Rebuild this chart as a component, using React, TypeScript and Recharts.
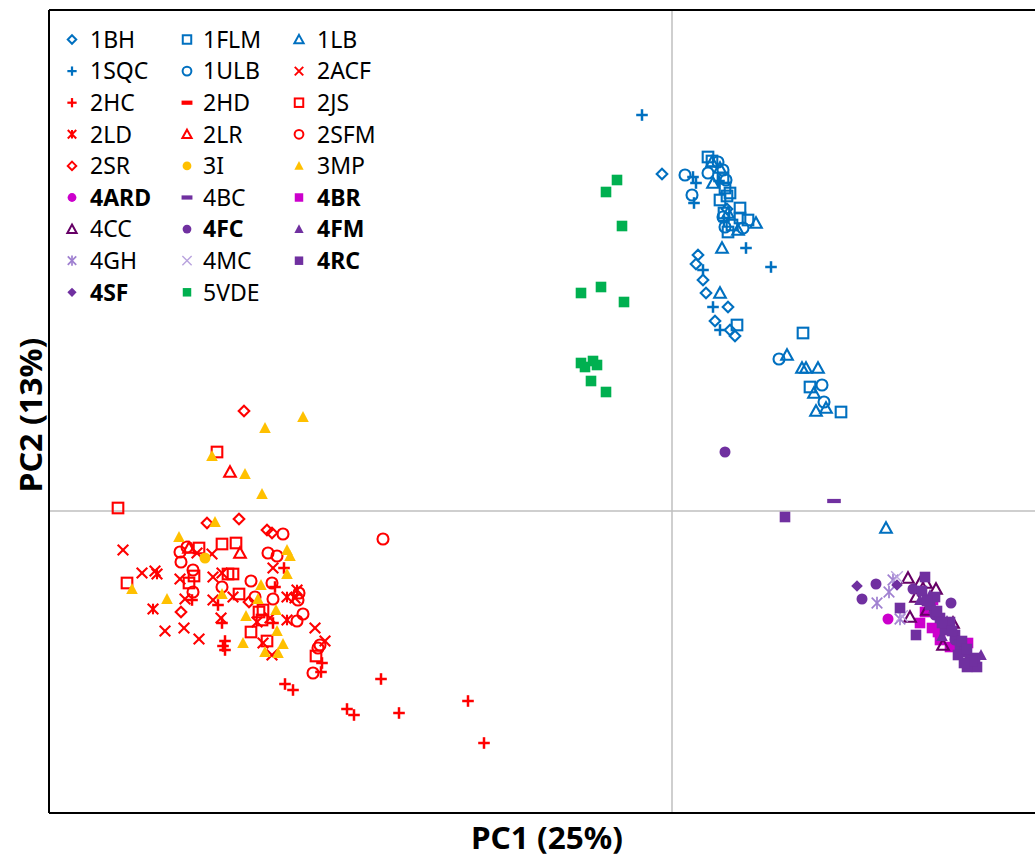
import React from 'react';
import { ScatterChart, Scatter, XAxis, YAxis, ReferenceLine } from 'recharts';

type P = [number, number];

const BLUE = '#0070C0';
const RED = '#FF0000';
const YELLOW = '#FFC000';
const MAGENTA = '#CC00CC';
const PURPLE = '#7030A0';
const DARKPURPLE = '#660066';
const LAV1 = '#9F7FD0';
const LAV2 = '#B9A3DE';
const GREEN = '#00B050';

const X_DOMAIN: [number, number] = [-6.23, 3.63];
const Y_DOMAIN: [number, number] = [-3.02, 5.01];

const s1BH: P[] = [[-0.10, 3.37], [0.26, 2.56], [0.24, 2.47], [0.31, 2.31], [0.34, 2.18], [0.56, 2.04], [0.43, 1.90], [0.58, 1.81], [0.63, 1.75], [0.55, 3.02]];
const s1FLM: P[] = [[0.36, 3.54], [0.51, 3.33], [0.53, 3.23], [0.58, 3.18], [0.48, 3.11], [0.68, 3.03], [0.68, 2.93], [0.76, 2.91], [0.56, 2.79], [0.65, 1.86], [1.31, 1.78], [1.38, 1.24], [1.69, 0.99], [0.40, 3.50], [0.55, 3.15], [0.52, 2.98], [0.60, 2.86]];
const s1LB: P[] = [[0.40, 3.49], [0.41, 3.28], [0.84, 2.88], [0.66, 2.81], [0.50, 2.63], [0.48, 2.18], [1.15, 1.56], [1.30, 1.43], [1.34, 1.43], [1.46, 1.43], [1.42, 1.18], [1.44, 1.00], [1.54, 1.03], [2.14, -0.17], [0.48, 3.43], [0.56, 2.98]];
const s1SQC: P[] = [[-0.30, 3.96], [0.21, 3.34], [0.24, 3.28], [0.22, 3.08], [0.74, 2.63], [0.99, 2.44], [0.31, 2.41], [0.41, 2.04], [0.48, 1.81], [0.47, 3.30], [0.52, 2.90]];
const s1ULB: P[] = [[0.13, 3.36], [0.20, 3.16], [0.46, 3.49], [0.51, 3.41], [0.36, 3.38], [0.51, 2.94], [0.53, 2.84], [0.71, 2.83], [1.07, 1.52], [1.50, 1.26], [1.52, 1.09], [0.54, 3.31]];
const s2ACF: P[] = [[-5.49, -0.39], [-4.75, -0.42], [-4.60, -0.43], [-3.99, -0.57], [-5.30, -0.62], [-5.17, -0.60], [-4.92, -0.68], [-4.59, -0.66], [-4.50, -0.62], [-4.87, -0.88], [-4.59, -0.89], [-4.39, -0.86], [-3.77, -0.87], [-5.07, -1.20], [-4.88, -1.17], [-4.73, -1.28], [-4.51, -1.07], [-4.15, -1.11], [-4.02, -1.07], [-4.00, -1.44], [-4.09, -1.32], [-3.57, -1.17], [-3.47, -1.30]];
const s2HC: P[] = [[-3.88, -0.57], [-3.97, -0.76], [-4.80, -0.89], [-4.54, -0.94], [-4.50, -1.12], [-3.99, -1.12], [-4.47, -1.30], [-4.47, -1.39], [-4.49, -1.35], [-3.50, -1.52], [-3.51, -1.61], [-3.87, -1.73], [-3.79, -1.79], [-3.25, -1.98], [-3.18, -2.04], [-2.73, -2.02], [-2.91, -1.68], [-2.04, -1.90], [-1.88, -2.32]];
const s2HD: P[] = [];
const s2JS: P[] = [[-4.55, 0.59], [-5.54, 0.03], [-4.73, -0.37], [-4.50, -0.33], [-4.36, -0.32], [-4.78, -0.65], [-4.83, -0.72], [-4.44, -0.63], [-4.39, -0.63], [-5.45, -0.72], [-4.33, -0.83], [-4.09, -0.99], [-4.10, -1.09], [-4.21, -1.21], [-4.05, -1.30], [-3.56, -1.45], [-4.13, -1.01]];
const s2LD: P[] = [[-5.19, -0.98], [-5.15, -0.63], [-3.75, -0.79], [-3.85, -1.09], [-3.85, -0.86]];
const s2LR: P[] = [[-4.42, 0.39], [-4.83, -0.37], [-4.32, -0.42]];
const s2SFM: P[] = [[-3.89, -0.23], [-4.92, -0.41], [-4.91, -0.51], [-4.85, -0.36], [-4.04, -0.42], [-3.95, -0.45], [-4.79, -0.59], [-4.50, -0.76], [-4.21, -0.70], [-4.00, -0.72], [-4.79, -0.81], [-4.17, -0.86], [-3.99, -0.88], [-3.74, -0.89], [-3.73, -0.82], [-3.75, -1.10], [-3.69, -1.03], [-3.52, -1.34], [-3.54, -1.37], [-3.59, -1.62], [-2.89, -0.28]];
const s2SR: P[] = [[-4.28, 1.00], [-4.65, -0.12], [-4.33, -0.08], [-4.00, -0.22], [-4.23, -0.91], [-4.91, -1.01], [-4.05, -0.19]];
const s3I: P[] = [[-4.67, -0.47]];
const s3MP: P[] = [[-3.69, 0.94], [-4.07, 0.83], [-4.27, 0.37], [-4.10, 0.17], [-4.60, 0.55], [-4.57, -0.11], [-4.93, -0.26], [-3.85, -0.39], [-3.82, -0.45], [-3.85, -0.63], [-4.11, -0.74], [-5.40, -0.78], [-5.05, -0.88], [-4.50, -0.83], [-4.14, -0.88], [-4.26, -1.05], [-3.96, -0.99], [-3.95, -1.20], [-4.29, -1.32], [-3.89, -1.33], [-4.07, -1.41], [-3.94, -1.42]];
const s4ARD: P[] = [[2.16, -1.08]];
const s4BC: P[] = [[1.62, 0.10]];
const s4BR: P[] = [[2.48, -1.12], [2.60, -1.17], [2.61, -0.89], [2.68, -1.29], [2.78, -1.36], [2.96, -1.32], [2.53, -1.01], [2.66, -1.21]];
const s4CC: P[] = [[2.36, -0.67], [2.48, -0.72], [2.54, -0.72], [2.64, -0.78], [2.44, -0.86], [2.38, -1.06], [2.55, -0.99], [2.71, -1.34], [2.81, -1.12]];
const s4FC: P[] = [[0.53, 0.59], [2.04, -0.73], [1.90, -0.88], [2.79, -0.92], [2.41, -0.78], [2.63, -1.04], [2.83, -1.29], [2.73, -1.14]];
const s4FM: P[] = [[3.09, -1.44], [2.58, -0.84], [2.88, -1.39], [2.76, -1.19], [2.48, -0.89], [2.62, -0.97], [2.75, -1.10], [2.85, -1.28], [2.97, -1.45], [2.70, -1.25]];
const s4GH: P[] = [[2.21, -0.69], [2.17, -0.81], [2.05, -0.92], [2.28, -1.08]];
const s4MC: P[] = [[2.25, -0.66], [2.30, -1.05]];
const s4RC: P[] = [[2.53, -0.66], [2.28, -0.97], [2.44, -1.24], [3.05, -1.56], [2.95, -1.56], [1.13, -0.06], [2.58, -0.94], [2.68, -1.07], [2.73, -1.19], [2.83, -1.24], [2.88, -1.34], [2.93, -1.41], [2.98, -1.49], [2.86, -1.44], [3.03, -1.47], [2.78, -1.11], [2.63, -0.86], [2.50, -0.80], [2.55, -0.90], [2.65, -1.00], [2.70, -1.12], [2.80, -1.20], [2.90, -1.30], [2.95, -1.38], [3.00, -1.50], [2.92, -1.52]];
const s4SF: P[] = [[1.85, -0.75], [2.25, -0.74]];
const s5VDE: P[] = [[-0.55, 3.31], [-0.66, 3.19], [-0.50, 2.85], [-0.71, 2.24], [-0.91, 2.18], [-0.48, 2.09], [-0.91, 1.48], [-0.79, 1.50], [-0.75, 1.46], [-0.87, 1.44], [-0.81, 1.30], [-0.66, 1.19]];

type Kind = 'diamond' | 'square' | 'triangle' | 'plus' | 'circle' | 'x' | 'dash' | 'ld' | 'dot' | 'tri' | 'sq' | 'dia' | 'star' | 'thinx';

interface Series { name: string; data: P[]; kind: Kind; color: string; bold: boolean }

const SERIES: Series[] = [
  { name: '1BH', data: s1BH, kind: 'diamond', color: BLUE, bold: false },
  { name: '1FLM', data: s1FLM, kind: 'square', color: BLUE, bold: false },
  { name: '1LB', data: s1LB, kind: 'triangle', color: BLUE, bold: false },
  { name: '1SQC', data: s1SQC, kind: 'plus', color: BLUE, bold: false },
  { name: '1ULB', data: s1ULB, kind: 'circle', color: BLUE, bold: false },
  { name: '2ACF', data: s2ACF, kind: 'x', color: RED, bold: false },
  { name: '2HC', data: s2HC, kind: 'plus', color: RED, bold: false },
  { name: '2HD', data: s2HD, kind: 'dash', color: RED, bold: false },
  { name: '2JS', data: s2JS, kind: 'square', color: RED, bold: false },
  { name: '2LD', data: s2LD, kind: 'ld', color: RED, bold: false },
  { name: '2LR', data: s2LR, kind: 'triangle', color: RED, bold: false },
  { name: '2SFM', data: s2SFM, kind: 'circle', color: RED, bold: false },
  { name: '2SR', data: s2SR, kind: 'diamond', color: RED, bold: false },
  { name: '3I', data: s3I, kind: 'dot', color: YELLOW, bold: false },
  { name: '3MP', data: s3MP, kind: 'tri', color: YELLOW, bold: false },
  { name: '4ARD', data: s4ARD, kind: 'dot', color: MAGENTA, bold: true },
  { name: '4BC', data: s4BC, kind: 'dash', color: PURPLE, bold: false },
  { name: '4BR', data: s4BR, kind: 'sq', color: MAGENTA, bold: true },
  { name: '4CC', data: s4CC, kind: 'triangle', color: DARKPURPLE, bold: false },
  { name: '4FC', data: s4FC, kind: 'dot', color: PURPLE, bold: true },
  { name: '4FM', data: s4FM, kind: 'tri', color: PURPLE, bold: true },
  { name: '4GH', data: s4GH, kind: 'star', color: LAV1, bold: false },
  { name: '4MC', data: s4MC, kind: 'thinx', color: LAV2, bold: false },
  { name: '4RC', data: s4RC, kind: 'sq', color: PURPLE, bold: true },
  { name: '4SF', data: s4SF, kind: 'dia', color: PURPLE, bold: true },
  { name: '5VDE', data: s5VDE, kind: 'sq', color: GREEN, bold: false },
];

function Marker({ kind, color, cx, cy, k = 1 }: { kind: Kind; color: string; cx: number; cy: number; k?: number }) {
  if (cx == null || cy == null || isNaN(cx) || isNaN(cy)) return null;
  const sw = 2.1 * (k < 1 ? 0.95 : 1);
  switch (kind) {
    case 'diamond': {
      const h = 5.3 * k;
      return <polygon points={`${cx},${cy - h} ${cx + h},${cy} ${cx},${cy + h} ${cx - h},${cy}`} fill="none" stroke={color} strokeWidth={sw} />;
    }
    case 'square': {
      const h = 5.3 * k;
      return <rect x={cx - h} y={cy - h} width={2 * h} height={2 * h} fill="none" stroke={color} strokeWidth={sw} />;
    }
    case 'triangle': {
      const h = 5.8 * k;
      return <polygon points={`${cx},${cy - h} ${cx + h},${cy + h * 0.82} ${cx - h},${cy + h * 0.82}`} fill="none" stroke={color} strokeWidth={sw} strokeLinejoin="miter" />;
    }
    case 'plus': {
      const h = 5.8 * k;
      return <g stroke={color} strokeWidth={2.5 * (k < 1 ? 0.9 : 1)}><line x1={cx - h} y1={cy} x2={cx + h} y2={cy} /><line x1={cx} y1={cy - h} x2={cx} y2={cy + h} /></g>;
    }
    case 'circle':
      return <circle cx={cx} cy={cy} r={5.5 * k} fill="none" stroke={color} strokeWidth={sw} />;
    case 'x': {
      const h = 5.3 * k;
      return <g stroke={color} strokeWidth={sw}><line x1={cx - h} y1={cy - h} x2={cx + h} y2={cy + h} /><line x1={cx - h} y1={cy + h} x2={cx + h} y2={cy - h} /></g>;
    }
    case 'ld': {
      const h = 5.3 * k;
      return <g stroke={color} strokeWidth={sw}><line x1={cx - h} y1={cy - h} x2={cx + h} y2={cy + h} /><line x1={cx - h} y1={cy + h} x2={cx + h} y2={cy - h} /><line x1={cx} y1={cy - h} x2={cx} y2={cy + h} /></g>;
    }
    case 'star': {
      const h = 5.3 * k;
      return <g stroke={color} strokeWidth={1.7}><line x1={cx - h} y1={cy - h} x2={cx + h} y2={cy + h} /><line x1={cx - h} y1={cy + h} x2={cx + h} y2={cy - h} /><line x1={cx} y1={cy - h * 1.2} x2={cx} y2={cy + h * 1.2} /></g>;
    }
    case 'thinx': {
      const h = 5.8 * k;
      return <g stroke={color} strokeWidth={1.4}><line x1={cx - h} y1={cy - h} x2={cx + h} y2={cy + h} /><line x1={cx - h} y1={cy + h} x2={cx + h} y2={cy - h} /></g>;
    }
    case 'dash':
      return <rect x={cx - 6.8 * k} y={cy - 2.1} width={13.6 * k} height={4.2} fill={color} />;
    case 'dot':
      return <circle cx={cx} cy={cy} r={5.5 * k} fill={color} />;
    case 'tri': {
      const h = 5.8 * k;
      return <polygon points={`${cx},${cy - h * 1.05} ${cx + h},${cy + h * 0.85} ${cx - h},${cy + h * 0.85}`} fill={color} />;
    }
    case 'sq': {
      const h = 5.3 * k;
      return <rect x={cx - h} y={cy - h} width={2 * h} height={2 * h} fill={color} />;
    }
    case 'dia': {
      const h = 5.8 * k;
      return <polygon points={`${cx},${cy - h} ${cx + h},${cy} ${cx},${cy + h} ${cx - h},${cy}`} fill={color} />;
    }
  }
  return null;
}

const LEG_MARK_X = [72, 187, 299];
const LEG_TEXT_X = [90, 203, 317];
const LEG_Y0 = 39.5;
const LEG_DY = 31.6;

function LegendOverlay() {
  return (
    <svg width={1035} height={858} style={{ position: 'absolute', left: 0, top: 0, pointerEvents: 'none' }}>
      {SERIES.map((s, i) => {
        const col = i % 3;
        const row = Math.floor(i / 3);
        const cy = LEG_Y0 + row * LEG_DY;
        return (
          <g key={s.name}>
            <Marker kind={s.kind} color={s.color} cx={LEG_MARK_X[col]} cy={cy} k={0.8} />
            <text x={LEG_TEXT_X[col]} y={cy + 8.3} fontFamily="'Noto Sans', sans-serif" fontSize={23} fontWeight={s.bold ? 700 : 400} fill="#000">{s.name}</text>
          </g>
        );
      })}
    </svg>
  );
}

export default function App() {
  return (
    <div style={{ position: 'absolute', left: 0, top: 0, width: 1035, height: 858, background: '#fff', overflow: 'hidden' }}>
      <ScatterChart width={1035} height={858} margin={{ top: 10, right: 0, bottom: 0, left: 0 }}>
        <XAxis type="number" dataKey="x" domain={X_DOMAIN} allowDataOverflow tick={false} tickLine={false} height={45} axisLine={{ stroke: '#000', strokeWidth: 2 }} />
        <YAxis type="number" dataKey="y" domain={Y_DOMAIN} allowDataOverflow tick={false} tickLine={false} width={49} axisLine={{ stroke: '#000', strokeWidth: 2 }} />
        <ReferenceLine x={0} stroke="#bfbfbf" strokeWidth={1.5} />
        <ReferenceLine y={0} stroke="#bfbfbf" strokeWidth={1.5} />
        <ReferenceLine y={Y_DOMAIN[1]} stroke="#000" strokeWidth={2} />
        {SERIES.map((s) => (
          <Scatter
            key={s.name}
            name={s.name}
            data={s.data.map(([x, y]) => ({ x, y }))}
            isAnimationActive={false}
            shape={(p: any) => <Marker kind={s.kind} color={s.color} cx={p.cx} cy={p.cy} />}
          />
        ))}
      </ScatterChart>
      <LegendOverlay />
      <svg width={1035} height={858} style={{ position: 'absolute', left: 0, top: 0, pointerEvents: 'none' }}>
        <text x={547} y={849} textAnchor="middle" fontFamily="'Noto Sans', sans-serif" fontSize={31} fontWeight={700} textLength={152} lengthAdjust="spacingAndGlyphs">PC1 (25%)</text>
        <text x={0} y={0} transform="translate(41.5,415) rotate(-90)" textAnchor="middle" fontFamily="'Noto Sans', sans-serif" fontSize={31} fontWeight={700} textLength={155} lengthAdjust="spacingAndGlyphs">PC2 (13%)</text>
      </svg>
    </div>
  );
}
